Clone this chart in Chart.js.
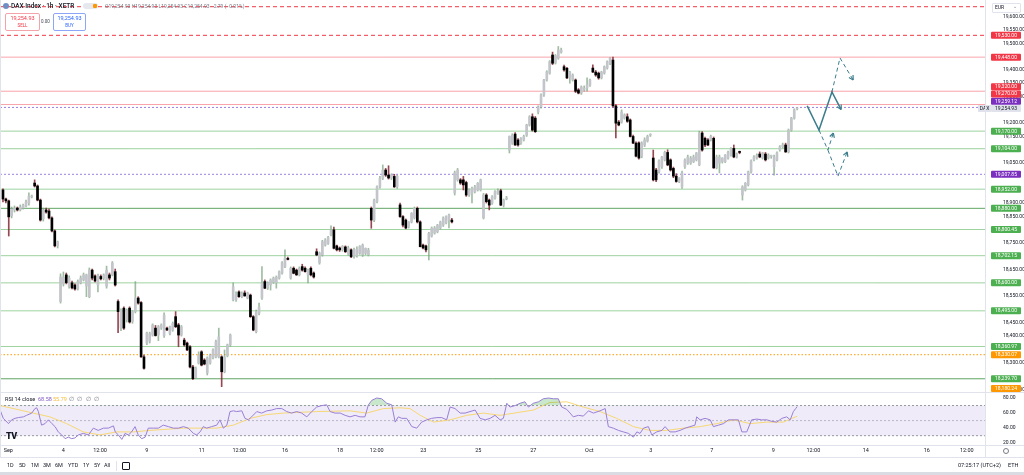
<!DOCTYPE html>
<html>
<head>
<meta charset="utf-8">
<script src="https://cdn.jsdelivr.net/npm/chart.js@4.4.1/dist/chart.umd.min.js"></script>
<style>
  body { margin: 0; width: 1024px; height: 475px; overflow: hidden; background: #fff; position: relative;
         font-family: Roboto, "Liberation Sans", sans-serif; color: #131722; }
  canvas { position: absolute; left: 0; }
  .t { position: absolute; white-space: nowrap; font-size: 5.5px; line-height: 7px; }
  .ln { position: absolute; background: #e0e3eb; }
</style>
</head>
<body>
<canvas id="main" width="1024" height="392" style="top:0"></canvas>
<canvas id="rsi" width="1024" height="65" style="top:392px"></canvas>

<!-- pane borders -->
<div class="ln" style="left:985px;top:0;width:1px;height:457px"></div>
<div class="ln" style="left:0;top:0;width:1px;height:457px"></div>
<div class="ln" style="left:0;top:392px;width:1024px;height:1px"></div>
<div class="ln" style="left:0;top:445px;width:1024px;height:1px"></div>
<div class="ln" style="left:0;top:457px;width:1024px;height:1px"></div>
<div class="ln" style="left:0;top:472px;width:1024px;height:3px;background:#d9dce3"></div>

<!-- header -->
<div style="position:absolute;left:3px;top:3px;width:6px;height:6px;border-radius:50%;background:#6f8fc4"></div>
<div class="t" style="left:11px;top:2.5px;font-size:6.5px;font-weight:500">DAX Index · 1h · XETR</div>
<div style="position:absolute;left:83px;top:3px;width:15px;height:6px;border-radius:3px;background:#e6e8ee"></div>
<div style="position:absolute;left:93px;top:4px;width:4px;height:4px;border-radius:1px;background:#ff9800"></div>
<div class="t" style="left:105px;top:3px;font-size:5px;color:#787b86">O19,254.93 H19,254.93 L19,254.93 C19,254.93 −2.79 (−0.01%)</div>
<div style="position:absolute;left:5px;top:13px;width:33px;height:16px;border:1px solid #f5a3aa;border-radius:2px;background:#fff"></div>
<div class="t" style="left:5px;top:15px;width:35px;text-align:center;font-size:5.5px;color:#f23645">19,254.93</div>
<div class="t" style="left:5px;top:22px;width:35px;text-align:center;font-size:4.5px;color:#f23645">SELL</div>
<div class="t" style="left:41px;top:18px;font-size:4.5px;color:#434651">0.00</div>
<div style="position:absolute;left:53px;top:13px;width:31px;height:16px;border:1px solid #8ea6f7;border-radius:2px;background:#fff"></div>
<div class="t" style="left:53px;top:15px;width:33px;text-align:center;font-size:5.5px;color:#2962ff">19,254.93</div>
<div class="t" style="left:53px;top:22px;width:33px;text-align:center;font-size:4.5px;color:#2962ff">BUY</div>

<!-- price axis header -->
<div style="position:absolute;left:992px;top:3px;width:27px;height:8px;border:1px solid #e0e3eb;border-radius:1px;background:#fff"></div>
<div class="t" style="left:995px;top:4px;font-size:5px">EUR</div>
<div class="t" style="left:1013px;top:3px;font-size:5px;color:#787b86">⌄</div>

<!-- RSI legend -->
<div class="t" style="left:5px;top:396px;font-size:5.5px;color:#131722">RSI 14 close</div>
<div class="t" style="left:38px;top:396px;font-size:5.5px;color:#7e57c2">68.58</div>
<div class="t" style="left:53px;top:396px;font-size:5.5px;color:#f5b93a">55.79</div>
<div class="t" style="left:69px;top:396px;font-size:5.5px;color:#787b86;word-spacing:2px">∅ ∅ ∅ ∅</div>
<div class="t" style="left:6px;top:431px;font-size:9px;line-height:10px;font-weight:900;letter-spacing:-0.5px">TV</div>

<!-- time axis extras -->
<div style="position:absolute;left:1003px;top:448px;width:4px;height:4px;border:1px solid #787b86;border-radius:50%"></div>

<!-- bottom toolbar -->
<div class="t" style="left:7px;top:462px">1D</div>
<div class="t" style="left:19px;top:462px">5D</div>
<div class="t" style="left:31px;top:462px">1M</div>
<div class="t" style="left:43px;top:462px">3M</div>
<div class="t" style="left:55px;top:462px">6M</div>
<div class="t" style="left:68px;top:462px">YTD</div>
<div class="t" style="left:83px;top:462px">1Y</div>
<div class="t" style="left:94px;top:462px">5Y</div>
<div class="t" style="left:104px;top:462px">All</div>
<div class="ln" style="left:116px;top:461px;width:1px;height:10px"></div>
<div style="position:absolute;left:122px;top:462px;width:6px;height:6px;border:1px solid #131722;border-radius:1px"></div>
<div class="t" style="left:958px;top:462px">07:25:17 (UTC+2)</div>
<div class="t" style="left:1008px;top:462px">ETH</div>

<script>
// hourly candles, Sep 2 - Oct 9 (bar index 0..276)
const opens = [
  18949,18915,18908,18852,18874,18881,18874,18881,18889,18900,
  18923,18975,18964,18911,18840,18874,18870,18844,18795,18739,
  18530,18596,18630,18586,18600,18592,18577,18600,18611,18588,
  18548,18648,18626,18592,18624,18618,18588,18630,18630,18642,
  18530,18430,18505,18461,18505,18455,18492,18543,18526,18322,
  18374,18381,18404,18430,18404,18430,18402,18430,18410,18423,
  18473,18442,18404,18385,18374,18360,18284,18243,18298,18341,
  18310,18262,18299,18318,18322,18322,18322,18266,18326,18367,
  18536,18536,18566,18548,18562,18543,18554,18473,18416,18486,
  18543,18605,18580,18592,18603,18600,18618,18637,18661,18692,
  18618,18655,18648,18630,18661,18655,18630,18655,18637,18717,
  18675,18705,18742,18748,18780,18799,18739,18731,18724,18735,
  18708,18724,18698,18701,18711,18705,18711,18705,18880,18836,
  18905,18961,18993,19024,19005,18994,19000,18961,18893,18849,
  18836,18811,18829,18844,18880,18829,18742,18739,18748,18776,
  18787,18792,18806,18817,18825,18836,18836,18938,18987,18987,
  18987,18977,18930,18936,18942,18949,18949,18844,18930,18911,
  18899,18918,18936,18946,18892,18915,19099,19125,19159,19137,
  19125,19137,19155,19193,19224,19219,19242,19261,19306,19362,
  19388,19456,19426,19444,19467,19412,19406,19370,19362,19362,
  19325,19313,19325,19332,19343,19407,19392,19388,19370,19388,
  19407,19425,19437,19265,19204,19204,19219,19224,19212,19150,
  19125,19126,19076,19118,19133,19155,19069,19024,19018,19036,
  19062,19090,19062,19030,19001,18981,18961,19036,19050,19050,
  19055,19062,19043,19163,19143,19137,19137,19143,19032,19050,
  19055,19055,19069,19080,19105,19073,19092,18930,18949,18968,
  19017,19062,19069,19084,19069,19084,19069,19075,19036,19062,
  19099,19111,19118,19092,19174,19219,19254
];
const highs = [
  18953,18919,18911,18885,18889,18885,18893,18896,18911,18938,
  18930,18987,18968,18915,18881,18881,18877,18848,18799,18757,
  18634,18641,18637,18626,18607,18596,18611,18626,18637,18633,
  18656,18652,18630,18633,18630,18634,18663,18637,18680,18652,
  18536,18502,18510,18502,18510,18495,18605,18548,18530,18329,
  18415,18415,18446,18440,18440,18446,18487,18434,18438,18453,
  18492,18448,18440,18392,18378,18364,18290,18284,18341,18345,
  18315,18322,18332,18352,18385,18430,18326,18348,18370,18408,
  18600,18566,18570,18566,18570,18565,18558,18477,18498,18524,
  18661,18611,18604,18615,18622,18626,18645,18680,18724,18697,
  18660,18660,18652,18660,18670,18660,18652,18660,18641,18728,
  18716,18760,18766,18775,18814,18810,18742,18735,18740,18739,
  18738,18728,18731,18735,18740,18746,18731,18730,18885,18915,
  18965,19000,19043,19030,19040,19010,19008,19004,18900,18853,
  18840,18830,18864,18885,18885,18833,18746,18742,18790,18810,
  18812,18820,18832,18848,18852,18858,18842,19020,19030,18992,
  19000,18982,18953,18960,18966,18977,18990,18936,18935,18915,
  18928,18947,18953,18952,18915,18925,19152,19160,19165,19142,
  19146,19155,19196,19228,19235,19225,19265,19310,19365,19397,
  19435,19467,19458,19488,19482,19418,19410,19395,19385,19366,
  19330,19340,19340,19370,19366,19419,19398,19392,19395,19415,
  19434,19446,19448,19270,19210,19250,19235,19235,19216,19155,
  19130,19130,19130,19145,19155,19160,19099,19030,19062,19075,
  19095,19100,19066,19035,19010,18995,19020,19066,19080,19075,
  19080,19090,19170,19168,19148,19142,19155,19148,19080,19080,
  19070,19082,19095,19108,19118,19088,19095,18965,18977,19020,
  19062,19078,19085,19092,19090,19090,19085,19080,19080,19092,
  19116,19125,19125,19178,19222,19254,19259
];
const lows = [
  18904,18900,18776,18844,18866,18870,18870,18877,18885,18892,
  18919,18960,18908,18832,18832,18862,18840,18791,18735,18731,
  18524,18588,18596,18580,18577,18573,18573,18596,18607,18548,
  18544,18611,18604,18566,18611,18611,18580,18611,18626,18588,
  18413,18420,18425,18453,18449,18448,18487,18520,18320,18276,
  18368,18374,18400,18400,18383,18425,18395,18420,18404,18418,
  18432,18360,18400,18362,18345,18280,18236,18240,18295,18288,
  18292,18254,18295,18314,18318,18318,18210,18262,18322,18362,
  18532,18530,18545,18544,18550,18540,18470,18420,18412,18480,
  18538,18578,18575,18573,18598,18580,18614,18633,18657,18686,
  18614,18634,18628,18626,18644,18640,18600,18626,18618,18702,
  18670,18700,18738,18744,18776,18728,18720,18718,18719,18714,
  18704,18695,18693,18697,18707,18699,18706,18701,18805,18830,
  18900,18956,18988,19000,18990,18988,18958,18955,18846,18810,
  18803,18806,18825,18840,18825,18735,18728,18716,18686,18772,
  18783,18788,18802,18812,18821,18806,18825,18930,18982,18970,
  18949,18925,18925,18900,18938,18945,18945,18840,18900,18874,
  18895,18914,18932,18890,18885,18912,19088,19120,19116,19114,
  19120,19133,19150,19189,19170,19165,19235,19256,19300,19358,
  19384,19420,19422,19440,19463,19395,19367,19350,19358,19315,
  19310,19308,19320,19320,19338,19390,19376,19365,19366,19384,
  19403,19420,19260,19145,19190,19200,19215,19203,19148,19123,
  19073,19065,19070,19112,19129,19150,18983,18980,19012,19030,
  19058,19040,19020,18995,18978,18976,18955,19030,19045,19045,
  19052,19058,19040,19095,19112,19115,19133,19030,19028,19013,
  19050,19052,19065,19076,19070,19069,19085,18911,18945,18964,
  19012,19058,19065,19070,19065,19058,19065,19068,19005,19058,
  19095,19107,19090,19088,19170,19215,19250
];
const closes = [
  18915,18908,18848,18877,18881,18874,18885,18892,18904,18926,
  18926,18964,18911,18836,18874,18866,18844,18795,18739,18754,
  18622,18622,18601,18618,18581,18577,18605,18618,18630,18630,
  18648,18618,18607,18630,18615,18630,18648,18618,18675,18592,
  18492,18498,18430,18498,18453,18492,18543,18524,18322,18279,
  18412,18409,18442,18402,18435,18442,18479,18423,18435,18448,
  18435,18404,18435,18367,18348,18284,18240,18280,18329,18291,
  18295,18318,18329,18348,18379,18397,18266,18322,18367,18404,
  18586,18554,18548,18562,18551,18562,18473,18423,18492,18510,
  18600,18580,18600,18611,18618,18622,18642,18675,18693,18688,
  18655,18636,18630,18655,18648,18642,18648,18630,18622,18705,
  18712,18755,18761,18771,18799,18730,18724,18724,18737,18717,
  18731,18698,18724,18727,18737,18742,18730,18723,18836,18911,
  18961,18993,19024,19005,18994,19005,18961,19001,18849,18817,
  18806,18829,18861,18880,18829,18736,18731,18724,18786,18806,
  18806,18817,18829,18843,18849,18855,18829,19013,19024,18975,
  18968,18930,18949,18955,18961,18974,18987,18930,18905,18892,
  18924,18943,18946,18892,18911,18919,19150,19155,19118,19118,
  19142,19150,19193,19224,19174,19168,19261,19306,19362,19393,
  19431,19425,19454,19475,19475,19400,19370,19392,19381,19320,
  19313,19336,19332,19343,19362,19392,19381,19370,19392,19412,
  19431,19444,19265,19200,19193,19242,19231,19207,19150,19125,
  19076,19069,19125,19137,19150,19157,18987,18987,19058,19073,
  19090,19043,19024,19001,18981,18994,19013,19062,19073,19069,
  19073,19088,19163,19099,19118,19118,19150,19032,19073,19073,
  19069,19080,19090,19105,19073,19085,19090,18961,18974,19017,
  19058,19073,19080,19073,19088,19062,19080,19076,19073,19088,
  19111,19118,19092,19174,19219,19250,19254.93
];
const lastPrice = 19254.93;

// drawn horizontal levels
const levelValues = [19637.5, 19530, 19448, 19320, 19270, 19259.12, 19170, 19104, 19007.85, 18952,
  18880, 18800.45, 18702.15, 18600, 18495, 18360.97, 18330.07, 18239.70, 18180.24];
const levelKinds = ['resDashTop', 'resDash', 'res', 'res', 'res', 'mark', 'sup', 'sup', 'mark', 'sup',
  'supStrong', 'sup', 'sup', 'sup', 'sup', 'sup', 'alert', 'supStrong', 'alert'];

// projection path (bar index, price)
const projSolidX = [279.5, 283.6, 288.1, 291.3];
const projSolidY = [19265, 19174, 19317, 19251];
const projUpX = [288.1, 290.9, 295.5];
const projUpY = [19317, 19445, 19362];
const projMidX = [283.6, 286.7, 288.6];
const projMidY = [19174, 19099, 19163];
const projLowX = [286.7, 290.2, 293.4];
const projLowY = [19099, 19001, 19092];

// RSI 14 and its moving average
const rsiIdx = [-1, 0.1, 1.9, 3, 4.2, 5.3, 7.1, 8.2, 10, 11.1, 11.7, 12.3, 13.4, 14.6, 15.8, 17, 18.1, 19.2, 20.4, 21.6,
  22.7, 23.9, 25, 26.2, 27.9, 29.7, 31.4, 33.1, 34.9, 36.6, 38.4, 39, 40.1, 41.3, 42.4, 43.6, 44.7, 45.9, 47, 48.2,
  49.4, 50.5, 52.3, 54, 55.7, 57.5, 59.2, 61, 62.7, 64.4, 66.2, 67.3, 68.5, 69.6, 70.8, 72.5, 74.3, 75.4, 76.6, 77.8,
  78.9, 80.1, 81.2, 83, 84.1, 85.3, 86.4, 88.2, 89.9, 91.7, 93.4, 95.1, 96.9, 98.6, 100.3, 102.1, 103.8, 105.6, 107.3, 109,
  110.8, 112.5, 113.7, 115.4, 117.2, 118.9, 120.6, 122.4, 124.1, 125.8, 127, 128.2, 129.9, 131.6, 133.4, 135.1, 136.3, 137.4, 138.6, 140.3,
  142.1, 143.8, 145.5, 147.3, 149, 150.8, 152.5, 154.2, 155.4, 157.1, 158.9, 160.6, 162.3, 164.1, 165.8, 167.6, 169.3, 171, 172.8, 173.9,
  175.1, 176.2, 178, 179.7, 181.4, 182.6, 184.3, 186.1, 187.8, 189.6, 191.3, 193, 194.2, 195.9, 197.1, 198.2, 200, 201.7, 203.5, 205.2,
  207.5, 209.3, 210.4, 212.1, 213.9, 215.6, 217.4, 219.1, 220.3, 221.4, 222.6, 224.3, 225.5, 227.2, 229, 230.1, 231.8, 233.6, 235.3, 237.1,
  238.8, 240.5, 241.1, 242.3, 244, 245.8, 246.9, 248.7, 250.4, 252.1, 253.9, 255.6, 256.8, 258.5, 260.2, 262, 263.7, 265.5, 267.2, 268.9,
  270.7, 272.4, 273.6, 274.7, 275.5, 276];
const rsiVal = [64, 53, 46, 51, 53, 54, 55, 57, 60, 66, 67, 62, 44, 46, 51, 46, 42, 35, 31, 26,
  28, 26, 27, 31, 33, 31, 40, 37, 40, 40, 43, 35, 31, 25, 33, 31, 35, 42, 31, 26,
  28, 40, 40, 40, 44, 42, 40, 40, 42, 40, 33, 31, 35, 42, 40, 42, 44, 51, 40, 44,
  62, 63, 62, 63, 53, 51, 55, 62, 60, 63, 64, 66, 66, 62, 60, 62, 60, 55, 62, 68,
  70, 71, 62, 60, 60, 57, 55, 57, 55, 55, 71, 77, 80, 79, 73, 71, 48, 55, 53, 53,
  42, 40, 48, 51, 53, 54, 54, 51, 68, 66, 60, 60, 62, 64, 53, 51, 53, 57, 51, 53,
  73, 68, 70, 73, 75, 68, 73, 75, 79, 80, 79, 79, 68, 65, 60, 55, 57, 56, 63, 60,
  63, 66, 42, 40, 37, 35, 33, 28, 35, 33, 40, 42, 31, 35, 37, 42, 35, 35, 37, 40,
  42, 44, 55, 51, 53, 51, 42, 44, 46, 51, 51, 51, 35, 35, 51, 52, 51, 51, 49, 48,
  53, 55, 51, 62, 66, 68.58];
const maIdx = [-1, 10.5, 16.3, 22.1, 27.9, 33.7, 39.5, 45.3, 51.1, 62.7, 74.3, 80.1, 85.9, 91.7, 97.5, 109, 120.6, 126.4, 132.2, 138,
  141.5, 145, 149.6, 155.4, 161.2, 167, 172.8, 184.3, 190.1, 195.9, 201.7, 207.5, 213.3, 219.1, 224.9, 230.7, 236.5, 242.3, 248.1, 253.9,
  259.7, 265.5, 271.2, 276];
const maVal = [70, 60, 55, 46, 35, 31, 35, 35, 37, 40, 40, 44, 53, 58, 60, 62, 63, 60, 66, 67,
  66, 57, 48, 51, 57, 60, 57, 64, 74, 75, 68, 62, 53, 42, 37, 37, 40, 42, 46, 51,
  46, 48, 48, 55.79];

// time axis labels (bar index positions)
const tickIdx = [1.84, 20.96, 33.72, 49.95, 69.07, 82.13, 98.02, 117.14, 129.89, 146.09,
  165.21, 184.32, 203.79, 225.13, 246.33, 267.74, 281.65, 299.86, 321.06, 334.96];
const tickText = ['Sep', '4', '12:00', '9', '11', '12:00', '16', '18', '12:00', '23',
  '25', '27', 'Oct', '3', '7', '9', '12:00', '14', '16', '12:00'];

const xMin = -1.04, xMax = 341.3;
const priceMin = 18190, priceMax = 19662.7;

Chart.defaults.font.family = 'Roboto, "Liberation Sans", sans-serif';
Chart.defaults.color = '#131722';

const kindStyle = {
  resDashTop: { color: '#f23645', dash: [4, 3], width: 1, tag: null },
  resDash: { color: '#f23645', dash: [4, 3], width: 1, tag: '#f23645' },
  res: { color: 'rgba(242,54,69,0.45)', dash: [], width: 1, tag: '#f23645' },
  mark: { color: '#9d80e0', dash: [2, 2], width: 1, tag: '#7b2fbf' },
  sup: { color: 'rgba(76,175,80,0.55)', dash: [], width: 1, tag: '#4caf50' },
  supStrong: { color: 'rgba(56,142,60,0.8)', dash: [], width: 1, tag: '#4caf50' },
  alert: { color: '#ff9800', dash: [1.5, 2], width: 1, tag: '#ff9800' }
};

const fmt = v => v.toLocaleString('en-US', { minimumFractionDigits: 2, maximumFractionDigits: 2 });
const labelled = levelValues.filter((v, i) => kindStyle[levelKinds[i]].tag).concat([lastPrice]);
const hideTick = v => v > 19620 || labelled.some(l => Math.abs(l - v) < 18);

const levelSets = levelValues.map((v, i) => {
  const st = kindStyle[levelKinds[i]];
  return {
    type: 'line', data: [{ x: xMin, y: v }, { x: xMax, y: v }],
    borderColor: st.color, borderDash: st.dash, borderWidth: st.width, pointRadius: 0, order: 10
  };
});

const isUp = i => closes[i] >= opens[i];
const wickSet = {
  type: 'bar', data: opens.map((o, i) => ({ x: i, y: [lows[i], highs[i]] })),
  backgroundColor: c => isUp(c.dataIndex) ? 'rgba(120,160,122,0.7)' : 'rgba(130,40,50,0.85)',
  barThickness: 1, grouped: false, borderWidth: 0, order: 6
};
const bodySet = {
  type: 'bar', data: opens.map((o, i) => ({ x: i, y: [o, closes[i]] })),
  backgroundColor: c => isUp(c.dataIndex) ? '#c3c5cb' : '#000000',
  barThickness: 2, grouped: false, borderWidth: 0, minBarLength: 1, order: 5
};

const teal = '#3b7d8c';
const path = (xs, ys) => xs.map((x, i) => ({ x, y: ys[i] }));
const projSets = [
  { type: 'line', data: path(projSolidX, projSolidY), borderColor: teal, borderWidth: 1.5, pointRadius: 0, order: 1, arrowHead: true },
  { type: 'line', data: path(projUpX, projUpY), borderColor: teal, borderWidth: 1, borderDash: [4, 3], pointRadius: 0, order: 1, arrowHead: true },
  { type: 'line', data: path(projMidX, projMidY), borderColor: teal, borderWidth: 1, borderDash: [4, 3], pointRadius: 0, order: 1, arrowHead: true },
  { type: 'line', data: path(projLowX, projLowY), borderColor: teal, borderWidth: 1, borderDash: [4, 3], pointRadius: 0, order: 1, arrowHead: true }
];

const arrowPlugin = {
  id: 'arrows',
  afterDatasetsDraw(chart) {
    const ctx = chart.ctx;
    chart.data.datasets.forEach((ds, i) => {
      if (!ds.arrowHead) return;
      const pts = chart.getDatasetMeta(i).data;
      const a = pts[pts.length - 2], b = pts[pts.length - 1];
      const ang = Math.atan2(b.y - a.y, b.x - a.x);
      ctx.save();
      ctx.strokeStyle = ds.borderColor;
      ctx.lineWidth = 1.2;
      ctx.beginPath();
      [-0.5, 0.5].forEach(s => {
        ctx.moveTo(b.x, b.y);
        ctx.lineTo(b.x - 5 * Math.cos(ang + s), b.y - 5 * Math.sin(ang + s));
      });
      ctx.stroke();
      ctx.restore();
    });
  }
};

const labelPlugin = {
  id: 'levelLabels',
  afterDraw(chart) {
    const { ctx, chartArea, scales: { y } } = chart;
    const items = [];
    levelValues.forEach((v, i) => {
      const tag = kindStyle[levelKinds[i]].tag;
      if (tag) items.push({ v, y: y.getPixelForValue(v), bg: tag, fg: '#ffffff' });
    });
    items.push({ v: lastPrice, y: y.getPixelForValue(lastPrice), bg: '#e0e3eb', fg: '#131722', cur: true });
    items.sort((a, b) => b.y - a.y);
    let prev = chartArea.bottom - 3.5 + 7.3;
    items.forEach(it => { it.y = Math.min(it.y, prev - 7.3); prev = it.y; });
    ctx.save();
    ctx.font = '5px Roboto, "Liberation Sans", sans-serif';
    ctx.textAlign = 'center';
    ctx.textBaseline = 'middle';
    items.forEach(it => {
      ctx.fillStyle = it.bg;
      ctx.beginPath();
      ctx.roundRect(991, it.y - 3.5, 30, 7, 1);
      ctx.fill();
      ctx.fillStyle = it.fg;
      ctx.fillText(fmt(it.v), 1006, it.y + 0.3);
      if (it.cur) {
        ctx.fillStyle = '#e0e3eb';
        ctx.fillRect(978, it.y - 3.5, 13, 7);
        ctx.fillStyle = '#131722';
        ctx.fillText('DAX', 984.5, it.y + 0.3);
      }
    });
    ctx.restore();
  }
};

new Chart(document.getElementById('main'), {
  type: 'bar',
  data: { datasets: [...levelSets, wickSet, bodySet, ...projSets] },
  options: {
    responsive: false,
    animation: false,
    layout: { padding: 0 },
    plugins: { legend: { display: false }, tooltip: { enabled: false } },
    scales: {
      x: { type: 'linear', display: false, min: xMin, max: xMax, offset: false },
      y: {
        type: 'linear', position: 'right', min: priceMin, max: priceMax,
        grid: { display: false }, border: { display: false },
        ticks: {
          stepSize: 50, includeBounds: false, autoSkip: false, padding: 10,
          font: { size: 5 }, color: '#131722',
          callback: v => hideTick(v) ? '' : fmt(v)
        },
        afterFit: s => { s.width = 39; s.paddingTop = 0; s.paddingBottom = 0; }
      }
    }
  },
  plugins: [labelPlugin, arrowPlugin]
});

const band = v => [{ x: xMin, y: v }, { x: xMax, y: v }];

// time labels drawn under the RSI pane through the x scale
const timeAxisPlugin = {
  id: 'timeAxis',
  afterDraw(chart) {
    const { ctx, chartArea, scales: { x } } = chart;
    ctx.save();
    ctx.font = '5.5px Roboto, "Liberation Sans", sans-serif';
    ctx.fillStyle = '#131722';
    ctx.textAlign = 'center';
    ctx.textBaseline = 'middle';
    tickIdx.forEach((v, i) => ctx.fillText(tickText[i], x.getPixelForValue(v), chartArea.bottom + 6));
    ctx.restore();
  }
};

new Chart(document.getElementById('rsi'), {
  type: 'line',
  data: {
    datasets: [
      { data: band(70), borderColor: '#9598a1', borderDash: [2, 2], borderWidth: 1, pointRadius: 0, order: 5 },
      { data: band(30), borderColor: '#9598a1', borderDash: [2, 2], borderWidth: 1, pointRadius: 0, order: 5,
        fill: '-1', backgroundColor: 'rgba(126,87,194,0.12)' },
      { data: band(50), borderColor: 'rgba(149,152,161,0.6)', borderDash: [2, 2], borderWidth: 1, pointRadius: 0, order: 5 },
      { data: path(maIdx, maVal), borderColor: '#f7d774', borderWidth: 1, pointRadius: 0, order: 2 },
      { data: path(rsiIdx, rsiVal), borderColor: '#9a7fd6', borderWidth: 1, pointRadius: 0, order: 1,
        fill: { target: { value: 70 }, above: 'rgba(76,175,80,0.3)', below: 'rgba(0,0,0,0)' } }
    ]
  },
  options: {
    responsive: false,
    animation: false,
    layout: { padding: { bottom: 12 } },
    plugins: { legend: { display: false }, tooltip: { enabled: false } },
    scales: {
      x: { type: 'linear', display: false, min: xMin, max: xMax, offset: false },
      y: {
        type: 'linear', position: 'right', min: 17.6, max: 88,
        grid: { display: false }, border: { display: false },
        ticks: { stepSize: 20, includeBounds: false, autoSkip: false, padding: 10, font: { size: 5 }, color: '#131722',
                 callback: v => v.toFixed(2) },
        afterFit: s => { s.width = 39; s.paddingTop = 0; s.paddingBottom = 0; }
      }
    }
  },
  plugins: [timeAxisPlugin]
});
</script>
</body>
</html>
